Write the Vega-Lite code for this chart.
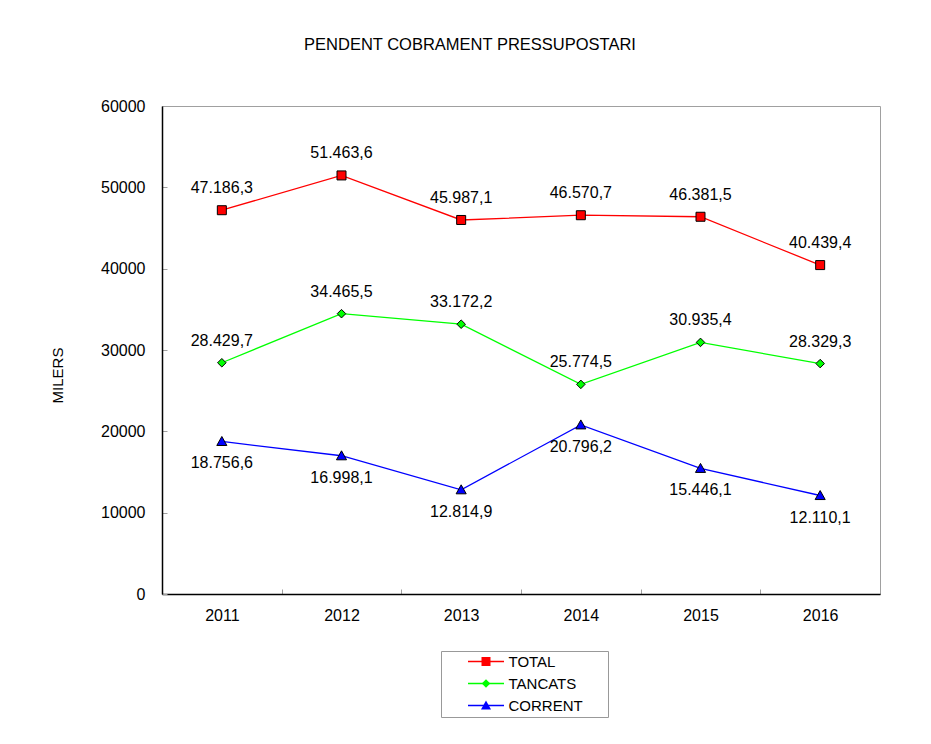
{
  "$schema": "https://vega.github.io/schema/vega-lite/v6.json",
  "autosize": "none",
  "width": 718,
  "height": 488,
  "padding": {"left": 162, "top": 106, "right": 51, "bottom": 150},
  "background": "white",
  "config": {
    "font": "Liberation Sans",
    "view": {"stroke": "#A0A0A0", "strokeWidth": 1},
    "locale": {"number": {"decimal": ",", "thousands": ".", "grouping": [3], "currency": ["", " €"]}}
  },
  "title": {
    "text": "PENDENT COBRAMENT PRESSUPOSTARI",
    "anchor": "middle",
    "frame": "group",
    "dx": -51,
    "offset": 45,
    "fontSize": 16.5,
    "fontWeight": "normal",
    "font": "Liberation Sans",
    "color": "black"
  },
  "data": {
    "values": [
      {"year": "2011", "series": "TOTAL", "value": 47186.3},
      {"year": "2012", "series": "TOTAL", "value": 51463.6},
      {"year": "2013", "series": "TOTAL", "value": 45987.1},
      {"year": "2014", "series": "TOTAL", "value": 46570.7},
      {"year": "2015", "series": "TOTAL", "value": 46381.5},
      {"year": "2016", "series": "TOTAL", "value": 40439.4},
      {"year": "2011", "series": "TANCATS", "value": 28429.7},
      {"year": "2012", "series": "TANCATS", "value": 34465.5},
      {"year": "2013", "series": "TANCATS", "value": 33172.2},
      {"year": "2014", "series": "TANCATS", "value": 25774.5},
      {"year": "2015", "series": "TANCATS", "value": 30935.4},
      {"year": "2016", "series": "TANCATS", "value": 28329.3},
      {"year": "2011", "series": "CORRENT", "value": 18756.6},
      {"year": "2012", "series": "CORRENT", "value": 16998.1},
      {"year": "2013", "series": "CORRENT", "value": 12814.9},
      {"year": "2014", "series": "CORRENT", "value": 20796.2},
      {"year": "2015", "series": "CORRENT", "value": 15446.1},
      {"year": "2016", "series": "CORRENT", "value": 12110.1}
    ]
  },
  "encoding": {
    "x": {
      "field": "year",
      "type": "ordinal",
      "scale": {"type": "band", "paddingInner": 0, "paddingOuter": 0},
      "axis": {
        "title": null,
        "labelAngle": 0,
        "labelFont": "Liberation Sans",
        "labelFontSize": 16,
        "labelColor": "black",
        "labelPadding": 18,
        "tickBand": "extent",
        "tickSize": -5,
        "tickColor": "#A0A0A0",
        "domainColor": "black",
        "domainWidth": 1.5,
        "grid": false
      }
    },
    "y": {
      "field": "value",
      "type": "quantitative",
      "scale": {"domain": [0, 60000], "nice": false},
      "axis": {
        "values": [0, 10000, 20000, 30000, 40000, 50000, 60000],
        "format": "d",
        "grid": false,
        "labelFont": "Liberation Sans",
        "labelFontSize": 16,
        "labelColor": "black",
        "labelPadding": 22,
        "tickSize": -5,
        "tickColor": "#A0A0A0",
        "domainColor": "black",
        "domainWidth": 1.5,
        "title": "MILERS",
        "titleFont": "Liberation Sans",
        "titleFontSize": 15,
        "titleFontWeight": "normal",
        "titleColor": "black",
        "titleX": -105,
        "titleY": 269,
        "titleAngle": -90,
        "titleBaseline": "middle",
        "titleAlign": "center"
      }
    }
  },
  "layer": [
    {
      "mark": {"type": "line", "strokeWidth": 1.3},
      "encoding": {
        "stroke": {
          "field": "series",
          "type": "nominal",
          "scale": {"domain": ["TOTAL", "TANCATS", "CORRENT"], "range": ["#FF0000", "#00FF00", "#0000FF"]},
          "legend": {
            "orient": "none",
            "legendX": 279,
            "legendY": 545,
            "title": null,
            "symbolType": "M25.78,0M-4,0H4",
            "symbolSize": 81,
            "symbolStrokeWidth": 1.3,
            "symbolOffset": 34.5,
            "labelFont": "Liberation Sans",
            "labelFontSize": 15,
            "labelColor": "black",
            "labelOffset": 15,
            "rowPadding": 6,
            "padding": 3,
            "strokeColor": "#999999",
            "fillColor": "white",
            "zindex": 0
          }
        }
      }
    },
    {
      "mark": {"type": "point", "filled": true, "size": 81, "stroke": "black", "strokeWidth": 1, "opacity": 1},
      "encoding": {
        "fill": {
          "field": "series",
          "type": "nominal",
          "sort": null,
          "scale": {"range": ["#FF0000", "#00FF00", "#0000FF"]},
          "legend": {
            "orient": "none",
            "legendX": 279,
            "legendY": 545,
            "title": null,
            "symbolSize": 81,
            "symbolOffset": 34.5,
            "symbolStrokeColor": "black",
            "symbolStrokeWidth": 1,
            "symbolOpacity": 1,
            "labelFont": "Liberation Sans",
            "labelFontSize": 15,
            "labelOpacity": 0,
            "labelOffset": 15,
            "rowPadding": 6,
            "padding": 3,
            "strokeColor": null,
            "zindex": 1
          }
        },
        "shape": {
          "field": "series",
          "type": "nominal",
          "sort": null,
          "scale": {"range": [
            "M-1,-1H1V1H-1Z",
            "M0,-0.95L0.95,0L0,0.95L-0.95,0Z",
            "M0,-1.1L1.12,0.9L-1.12,0.9Z"
          ]},
          "legend": {
            "orient": "none",
            "legendX": 279,
            "legendY": 545,
            "title": null,
            "symbolSize": 81,
            "symbolOffset": 34.5,
            "symbolStrokeColor": "black",
            "symbolStrokeWidth": 1,
            "symbolOpacity": 1,
            "labelFont": "Liberation Sans",
            "labelFontSize": 15,
            "labelOpacity": 0,
            "labelOffset": 15,
            "rowPadding": 6,
            "padding": 3,
            "strokeColor": null,
            "zindex": 1
          }
        }
      }
    },
    {
      "transform": [{"filter": "datum.series !== 'CORRENT'"}],
      "mark": {"type": "text", "dy": -22, "fontSize": 16, "font": "Liberation Sans", "color": "black", "baseline": "middle", "align": "center"},
      "encoding": {"text": {"field": "value", "type": "quantitative", "format": ",.1f"}}
    },
    {
      "transform": [{"filter": "datum.series === 'CORRENT'"}],
      "mark": {"type": "text", "dy": 22, "fontSize": 16, "font": "Liberation Sans", "color": "black", "baseline": "middle", "align": "center"},
      "encoding": {"text": {"field": "value", "type": "quantitative", "format": ",.1f"}}
    }
  ]
}
